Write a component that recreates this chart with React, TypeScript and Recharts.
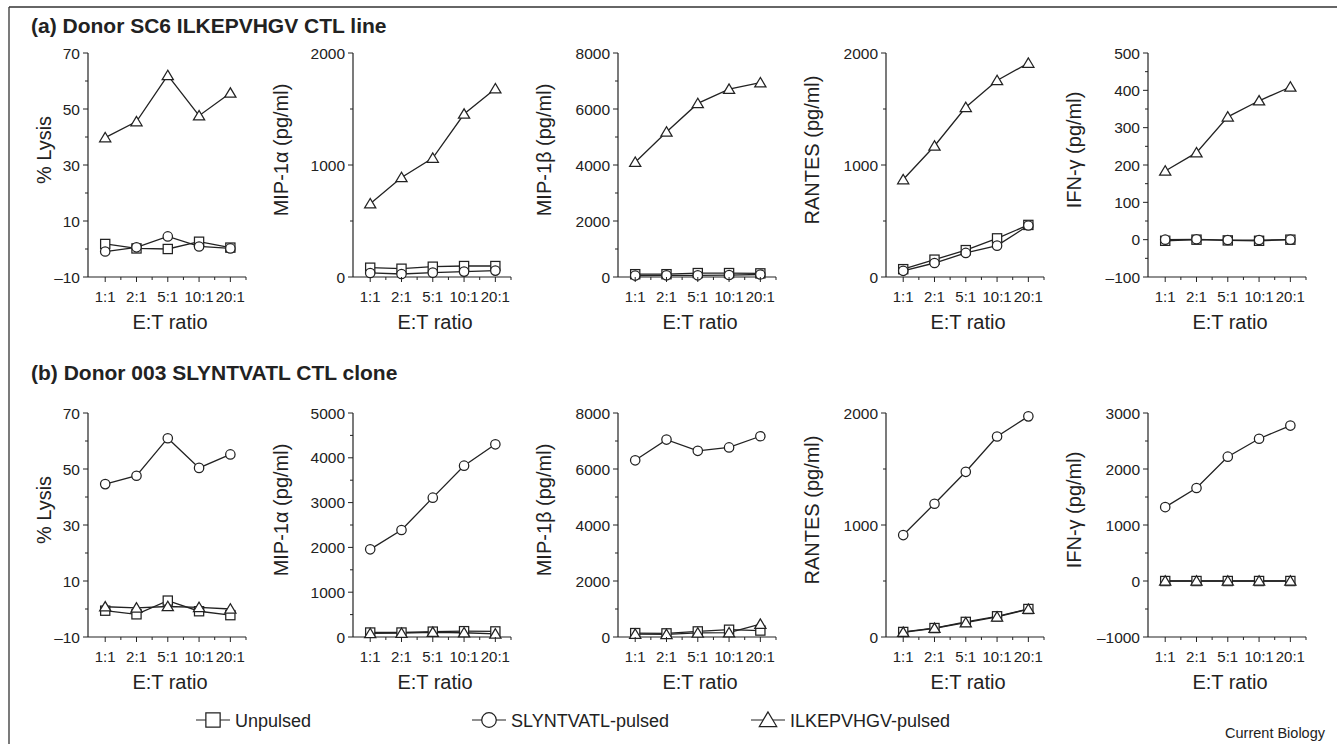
// Cytokine release vs lysis, two CTL donors — 2 rows x 5 small line panels.
import React from "react";
import { LineChart, Line, XAxis, YAxis } from "recharts";

const INK = "#222";
const FONT = '"Liberation Sans", Arial, Helvetica, sans-serif';

const RATIOS = ["1:1", "2:1", "5:1", "10:1", "20:1"];
const X_TICKS = [1, 1.5, 2, 2.5, 3, 3.5, 4, 4.5, 5, 5.5];

// y scales (all ticks, labelled ticks)
const LYSIS_TICKS = [-10, 0, 10, 20, 30, 40, 50, 60, 70];
const LYSIS_MAJOR = [-10, 10, 30, 50, 70];
const K2_TICKS = [0, 500, 1000, 1500, 2000];
const K2_MAJOR = [0, 1000, 2000];
const K5_TICKS = [0, 500, 1000, 1500, 2000, 2500, 3000, 3500, 4000, 4500, 5000];
const K5_MAJOR = [0, 1000, 2000, 3000, 4000, 5000];
const K8_TICKS = [0, 1000, 2000, 3000, 4000, 5000, 6000, 7000, 8000];
const K8_MAJOR = [0, 2000, 4000, 6000, 8000];
const IFN_A_TICKS = [-100, -50, 0, 50, 100, 150, 200, 250, 300, 350, 400, 450, 500];
const IFN_A_MAJOR = [-100, 0, 100, 200, 300, 400, 500];
const IFN_B_TICKS = [-1000, -500, 0, 500, 1000, 1500, 2000, 2500, 3000];
const IFN_B_MAJOR = [-1000, 0, 1000, 2000, 3000];

// (a) Donor SC6 ILKEPVHGV CTL line
const lysisA_unpulsed = [1.8, 0.2, 0, 2.6, 0.5];
const lysisA_slyntvatl = [-0.9, 0.6, 4.5, 0.9, 0.2];
const lysisA_ilkepvhgv = [39.8, 45.5, 62, 47.6, 55.7];
const mip1aA_unpulsed = [83, 74, 92, 98, 98];
const mip1aA_slyntvatl = [36, 27, 39, 48, 57];
const mip1aA_ilkepvhgv = [654, 889, 1062, 1455, 1681];
const mip1bA_unpulsed = [100, 100, 140, 140, 130];
const mip1bA_slyntvatl = [50, 60, 60, 70, 90];
const mip1bA_ilkepvhgv = [4100, 5180, 6200, 6710, 6940];
const rantesA_unpulsed = [70, 155, 240, 345, 465];
const rantesA_slyntvatl = [55, 125, 215, 280, 460];
const rantesA_ilkepvhgv = [870, 1170, 1515, 1755, 1910];
const ifnA_unpulsed = [-3, 0, -2, -3, 0];
const ifnA_slyntvatl = [0, 1, -1, -1, 0];
const ifnA_ilkepvhgv = [184, 233, 329, 372, 409];

// (b) Donor 003 SLYNTVATL CTL clone
const lysisB_unpulsed = [-0.6, -1.9, 3.0, -0.8, -2.2];
const lysisB_slyntvatl = [44.6, 47.6, 61, 50.4, 55.2];
const lysisB_ilkepvhgv = [0.8, 0.4, 0.9, 0.6, 0];
const mip1aB_unpulsed = [100, 100, 120, 130, 125];
const mip1aB_slyntvatl = [1957, 2388, 3110, 3824, 4301];
const mip1aB_ilkepvhgv = [80, 85, 105, 95, 70];
const mip1bB_unpulsed = [140, 130, 200, 260, 230];
const mip1bB_slyntvatl = [6310, 7050, 6650, 6770, 7170];
const mip1bB_ilkepvhgv = [105, 95, 145, 155, 460];
const rantesB_unpulsed = [45, 80, 135, 185, 250];
const rantesB_slyntvatl = [910, 1190, 1475, 1790, 1970];
const rantesB_ilkepvhgv = [42, 78, 128, 180, 248];
const ifnB_unpulsed = [0, 0, 0, 0, 0];
const ifnB_slyntvatl = [1320, 1660, 2220, 2540, 2775];
const ifnB_ilkepvhgv = [0, 0, 0, 0, 0];

type Panel = {
  title: string;
  titleOff: number;
  domain: [number, number];
  ticks: number[];
  majors: number[];
  series: [number[], number[], number[]];
};

const ROW_A: Panel[] = [
  { title: "% Lysis", titleOff: 44, domain: [-10, 70], ticks: LYSIS_TICKS, majors: LYSIS_MAJOR, series: [lysisA_unpulsed, lysisA_slyntvatl, lysisA_ilkepvhgv] },
  { title: "MIP-1α (pg/ml)", titleOff: 72, domain: [0, 2000], ticks: K2_TICKS, majors: K2_MAJOR, series: [mip1aA_unpulsed, mip1aA_slyntvatl, mip1aA_ilkepvhgv] },
  { title: "MIP-1β (pg/ml)", titleOff: 74, domain: [0, 8000], ticks: K8_TICKS, majors: K8_MAJOR, series: [mip1bA_unpulsed, mip1bA_slyntvatl, mip1bA_ilkepvhgv] },
  { title: "RANTES (pg/ml)", titleOff: 74, domain: [0, 2000], ticks: K2_TICKS, majors: K2_MAJOR, series: [rantesA_unpulsed, rantesA_slyntvatl, rantesA_ilkepvhgv] },
  { title: "IFN-γ (pg/ml)", titleOff: 74, domain: [-100, 500], ticks: IFN_A_TICKS, majors: IFN_A_MAJOR, series: [ifnA_unpulsed, ifnA_slyntvatl, ifnA_ilkepvhgv] },
];

const ROW_B: Panel[] = [
  { title: "% Lysis", titleOff: 44, domain: [-10, 70], ticks: LYSIS_TICKS, majors: LYSIS_MAJOR, series: [lysisB_unpulsed, lysisB_slyntvatl, lysisB_ilkepvhgv] },
  { title: "MIP-1α (pg/ml)", titleOff: 72, domain: [0, 5000], ticks: K5_TICKS, majors: K5_MAJOR, series: [mip1aB_unpulsed, mip1aB_slyntvatl, mip1aB_ilkepvhgv] },
  { title: "MIP-1β (pg/ml)", titleOff: 74, domain: [0, 8000], ticks: K8_TICKS, majors: K8_MAJOR, series: [mip1bB_unpulsed, mip1bB_slyntvatl, mip1bB_ilkepvhgv] },
  { title: "RANTES (pg/ml)", titleOff: 74, domain: [0, 2000], ticks: K2_TICKS, majors: K2_MAJOR, series: [rantesB_unpulsed, rantesB_slyntvatl, rantesB_ilkepvhgv] },
  { title: "IFN-γ (pg/ml)", titleOff: 74, domain: [-1000, 3000], ticks: IFN_B_TICKS, majors: IFN_B_MAJOR, series: [ifnB_unpulsed, ifnB_slyntvatl, ifnB_ilkepvhgv] },
];

const SERIES_KEYS = ["unpulsed", "slyntvatl", "ilkepvhgv"] as const;
type Kind = "square" | "circle" | "triangle";
const KINDS: Kind[] = ["square", "circle", "triangle"];

// layout (page px)
const AXIS_X = [88, 353, 618, 886, 1148];
const ROW_TOP = [53, 413];
const PLOT_W = 158;
const PLOT_H = 224;
const PAD_L = 90;
const PAD_T = 20;
const PAD_R = 12;
const X_AXIS_H = 60;

function Marker({ kind, cx, cy, s = 1 }: { kind: Kind; cx: number; cy: number; s?: number }) {
  const common = { fill: "#fff", stroke: INK, strokeWidth: 1.25 };
  if (kind === "square") {
    const h = 4.6 * s;
    return <rect x={cx - h} y={cy - h} width={2 * h} height={2 * h} {...common} />;
  }
  if (kind === "circle") return <circle cx={cx} cy={cy} r={4.7 * s} {...common} />;
  const w = 5.6 * s;
  const pts = `${cx},${cy - 5.2 * s} ${cx - w},${cy + 4.2 * s} ${cx + w},${cy + 4.2 * s}`;
  return <polygon points={pts} {...common} />;
}

const dotFor = (kind: Kind) => (p: any) => {
  if (p.cx == null || p.cy == null) return <g key={`${kind}-${p.index}`} />;
  return <Marker key={`${kind}-${p.index}`} kind={kind} cx={p.cx} cy={p.cy} />;
};

const fmt = (v: number) => (v < 0 ? `–${Math.abs(v)}` : String(v));

function PanelChart({ panel, axisX, top }: { panel: Panel; axisX: number; top: number }) {
  const data = RATIOS.map((r, i) => ({
    x: i + 1,
    ratio: r,
    unpulsed: panel.series[0][i],
    slyntvatl: panel.series[1][i],
    ilkepvhgv: panel.series[2][i],
  }));

  const xTick = (p: any) => {
    const v = p.payload.value as number;
    const major = Number.isInteger(v);
    return (
      <g>
        <line x1={p.x} x2={p.x} y1={p.y} y2={p.y + (major ? 5 : 3)} stroke={INK} />
        {major && (
          <text x={p.x} y={p.y + 25} textAnchor="middle" fontSize={15} fill={INK} fontFamily={FONT}>
            {RATIOS[v - 1]}
          </text>
        )}
      </g>
    );
  };

  const yTick = (p: any) => {
    const v = p.payload.value as number;
    const major = panel.majors.includes(v);
    return (
      <g>
        <line x1={p.x} x2={p.x - (major ? 5 : 3)} y1={p.y} y2={p.y} stroke={INK} />
        {major && (
          <text x={p.x - 8} y={p.y} dy="0.36em" textAnchor="end" fontSize={15.5} fill={INK} fontFamily={FONT}>
            {fmt(v)}
          </text>
        )}
      </g>
    );
  };

  const yTitle = (p: any) => {
    const vb = p.viewBox || {};
    const x = vb.x + vb.width - panel.titleOff;
    const y = vb.y + 97;
    return (
      <text x={x} y={y} transform={`rotate(-90 ${x} ${y})`} textAnchor="middle" dominantBaseline="central" fontSize={20} fill={INK} fontFamily={FONT}>
        {panel.title}
      </text>
    );
  };

  const xTitle = (p: any) => {
    const vb = p.viewBox || {};
    return (
      <text x={vb.x + vb.width / 2 + 3} y={vb.y + 52} textAnchor="middle" fontSize={20} fill={INK} fontFamily={FONT}>
        E:T ratio
      </text>
    );
  };

  return (
    <div style={{ position: "absolute", left: axisX - PAD_L, top: top - PAD_T }}>
      <LineChart
        width={PAD_L + PLOT_W + PAD_R}
        height={PAD_T + PLOT_H + X_AXIS_H}
        data={data}
        margin={{ top: PAD_T, right: PAD_R, bottom: 0, left: 0 }}
      >
        <XAxis
          type="number"
          dataKey="x"
          domain={[0.45, 5.5]}
          ticks={X_TICKS}
          interval={0}
          height={X_AXIS_H}
          tickSize={0}
          tickMargin={0}
          tickLine={false}
          axisLine={{ stroke: INK, strokeWidth: 1.2 }}
          tick={xTick}
          label={{ content: xTitle }}
        />
        <YAxis
          type="number"
          domain={panel.domain}
          ticks={panel.ticks}
          interval={0}
          width={PAD_L}
          tickSize={0}
          tickMargin={0}
          tickLine={false}
          axisLine={{ stroke: INK, strokeWidth: 1.2 }}
          tick={yTick}
          label={{ content: yTitle }}
        />
        {SERIES_KEYS.map((k, i) => (
          <Line
            key={k}
            dataKey={k}
            stroke={INK}
            strokeWidth={1.3}
            type="linear"
            dot={dotFor(KINDS[i])}
            activeDot={false}
            isAnimationActive={false}
          />
        ))}
      </LineChart>
    </div>
  );
}

const LEGEND = [
  { kind: "square" as Kind, label: "Unpulsed", x: 213 },
  { kind: "circle" as Kind, label: "SLYNTVATL-pulsed", x: 489 },
  { kind: "triangle" as Kind, label: "ILKEPVHGV-pulsed", x: 768 },
];

export default function App() {
  return (
    <div
      style={{
        position: "absolute",
        left: 0,
        top: 0,
        width: 1337,
        height: 744,
        overflow: "hidden",
        background: "#fff",
        fontFamily: FONT,
      }}
    >
      <svg width={1337} height={744} style={{ position: "absolute", left: 0, top: 0 }}>
        <line x1={9} y1={7} x2={1337} y2={7} stroke="#333" strokeWidth={1.3} />
        <line x1={9} y1={7} x2={9} y2={744} stroke="#333" strokeWidth={1.3} />
        <text x={31} y={33} fontSize={21} fontWeight="bold" fill={INK} fontFamily={FONT}>
          (a) Donor SC6 ILKEPVHGV CTL line
        </text>
        <text x={31} y={380} fontSize={21} fontWeight="bold" fill={INK} fontFamily={FONT}>
          (b) Donor 003 SLYNTVATL CTL clone
        </text>
        {LEGEND.map((l) => (
          <g key={l.label}>
            <line x1={l.x - 17} x2={l.x + 17} y1={720} y2={720} stroke={INK} strokeWidth={1.2} />
            <Marker kind={l.kind} cx={l.x} cy={720} s={1.55} />
            <text x={l.x + 22} y={726.5} fontSize={18} fill={INK} fontFamily={FONT}>
              {l.label}
            </text>
          </g>
        ))}
        <text x={1325} y={738} textAnchor="end" fontSize={14.5} fill={INK} fontFamily={FONT}>
          Current Biology
        </text>
      </svg>
      {ROW_A.map((p, i) => (
        <PanelChart key={`a-${i}`} panel={p} axisX={AXIS_X[i]} top={ROW_TOP[0]} />
      ))}
      {ROW_B.map((p, i) => (
        <PanelChart key={`b-${i}`} panel={p} axisX={AXIS_X[i]} top={ROW_TOP[1]} />
      ))}
    </div>
  );
}
